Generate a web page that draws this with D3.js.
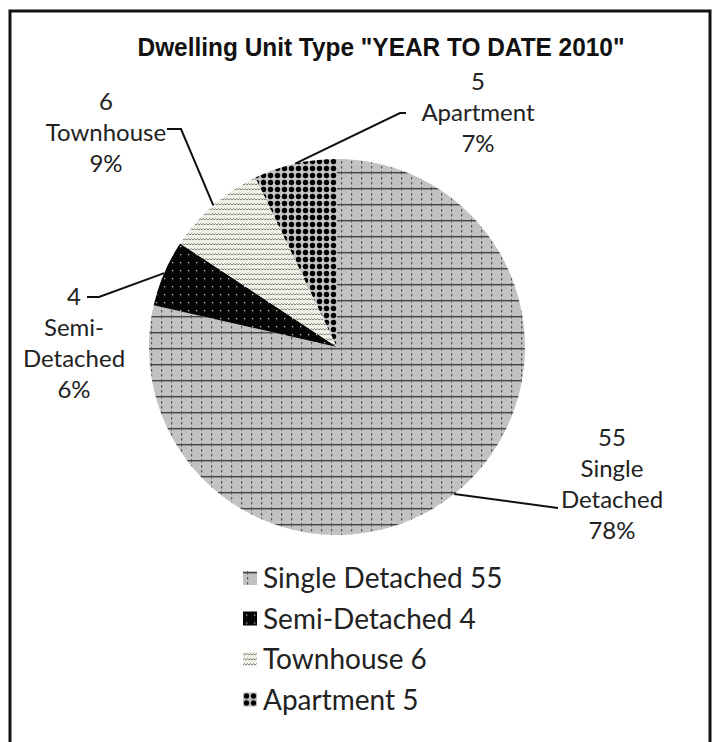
<!DOCTYPE html>
<html>
<head>
<meta charset="utf-8">
<script src="https://cdn.jsdelivr.net/npm/d3@7"></script>
<style>
  body { margin: 0; background: #fff; }
  text { font-family: Lato, "Noto Sans", sans-serif; fill: #222; }
</style>
</head>
<body>
<svg id="chart" width="722" height="742"></svg>
<script>
// data
var categories = ["Single Detached", "Semi-Detached", "Townhouse", "Apartment"];
var counts = [55, 4, 6, 5];
var percentLabels = ["78%", "6%", "9%", "7%"];
var labelLines = [
  ["55", "Single", "Detached", "78%"],
  ["4", "Semi-", "Detached", "6%"],
  ["6", "Townhouse", "9%"],
  ["5", "Apartment", "7%"]
];
var title = 'Dwelling Unit Type "YEAR TO DATE 2010"';

// layout for the data labels (x centre, first baseline, leader end)
var labelLayout = [
  { x: 612, y: 446, end: [[558, 508]] },
  { x: 74, y: 305, end: [[99, 297], [87, 297]] },
  { x: 106, y: 110, end: [[181, 129], [167, 129]] },
  { x: 478, y: 90, end: [[400, 113], [406, 113]] }
];

var svg = d3.select("#chart");
var cx = 337, cy = 347, r = 188;

var defs = svg.append("defs");

// single detached: grey with lines and little dashes
var p1 = defs.append("pattern").attr("id", "pSingle")
  .attr("patternUnits", "userSpaceOnUse").attr("width", 10).attr("height", 16);
p1.append("rect").attr("width", 10).attr("height", 16).attr("fill", "#c2c2c2");
p1.append("rect").attr("x", 0).attr("y", 1).attr("width", 10).attr("height", 1.4).attr("fill", "#444");
p1.append("rect").attr("x", 4).attr("y", 0).attr("width", 1).attr("height", 3.5).attr("fill", "#555");
p1.append("rect").attr("x", 4).attr("y", 6).attr("width", 1.2).attr("height", 2.5).attr("fill", "#555");
p1.append("rect").attr("x", 4).attr("y", 11).attr("width", 1.2).attr("height", 2.5).attr("fill", "#555");

// semi-detached: black with white dots
var p2 = defs.append("pattern").attr("id", "pSemi")
  .attr("patternUnits", "userSpaceOnUse").attr("width", 8).attr("height", 8);
p2.append("rect").attr("width", 8).attr("height", 8).attr("fill", "#050505");
p2.append("rect").attr("x", 3).attr("y", 3).attr("width", 1.3).attr("height", 1.3).attr("fill", "#bbb");

// townhouse: off-white with small zigzags
var p3 = defs.append("pattern").attr("id", "pTown")
  .attr("patternUnits", "userSpaceOnUse").attr("width", 6).attr("height", 5);
p3.append("rect").attr("width", 6).attr("height", 5).attr("fill", "#f1f0e6");
p3.append("path").attr("d", "M0,3 L1.5,1.6 L3,3 L4.5,1.6 L6,3")
  .attr("fill", "none").attr("stroke", "#666").attr("stroke-width", 0.8);

// apartment: grey with big black dots
var p4 = defs.append("pattern").attr("id", "pApt")
  .attr("patternUnits", "userSpaceOnUse").attr("width", 7).attr("height", 7);
p4.append("rect").attr("width", 7).attr("height", 7).attr("fill", "#c4c4c4");
p4.append("circle").attr("cx", 3.5).attr("cy", 3.5).attr("r", 2.7).attr("fill", "#000");

var fills = ["url(#pSingle)", "url(#pSemi)", "url(#pTown)", "url(#pApt)"];

// frame
svg.append("rect")
  .attr("x", 10).attr("y", 11).attr("width", 700).attr("height", 760)
  .attr("fill", "none").attr("stroke", "#111").attr("stroke-width", 3);

svg.append("text")
  .attr("x", 381).attr("y", 56)
  .attr("text-anchor", "middle")
  .style("font-family", "Liberation Sans, Arial, sans-serif")
  .style("font-weight", "bold").style("font-size", "25px")
  .attr("textLength", 487).attr("lengthAdjust", "spacingAndGlyphs")
  .style("fill", "#111")
  .text(title);

var data = categories.map(function(c, i) {
  return { name: c, value: counts[i], pct: percentLabels[i], lines: labelLines[i], pos: labelLayout[i] };
});

var pie = d3.pie().sort(null).value(function(d) { return d.value; });
var arc = d3.arc().innerRadius(0).outerRadius(r);
var edge = d3.arc().innerRadius(r).outerRadius(r);

var g = svg.append("g").attr("transform", "translate(" + cx + "," + cy + ")");
var arcs = pie(data);

g.selectAll("path.slice")
  .data(arcs)
  .enter().append("path")
  .attr("class", "slice")
  .attr("d", arc)
  .attr("fill", function(d, i) { return fills[i]; });

// leader lines
var line = d3.line();
svg.selectAll("path.leader")
  .data(arcs)
  .enter().append("path")
  .attr("class", "leader")
  .attr("d", function(d) {
    var c = edge.centroid(d);
    var pts = [[c[0] + cx, c[1] + cy]].concat(d.data.pos.end);
    return line(pts);
  })
  .attr("fill", "none").attr("stroke", "#111").attr("stroke-width", 2);

// data labels
var lab = svg.selectAll("text.lab")
  .data(data)
  .enter().append("text")
  .attr("class", "lab")
  .attr("text-anchor", "middle")
  .style("font-size", "24px");
lab.selectAll("tspan")
  .data(function(d) { return d.lines.map(function(t) { return { t: t, p: d.pos }; }); })
  .enter().append("tspan")
  .attr("x", function(d) { return d.p.x; })
  .attr("y", function(d, i) { return d.p.y + i * 31; })
  .text(function(d) { return d.t; });

// legend
var leg = svg.selectAll("g.leg")
  .data(data)
  .enter().append("g")
  .attr("class", "leg")
  .attr("transform", function(d, i) { return "translate(243," + (571 + i * 40.5) + ")"; });
leg.append("rect")
  .attr("width", 14).attr("height", 14)
  .attr("fill", function(d, i) { return fills[i]; });
leg.append("text")
  .attr("x", 20).attr("y", 17)
  .style("font-size", "28px")
  .text(function(d) { return d.name + " " + d.value; });
</script>
</body>
</html>
